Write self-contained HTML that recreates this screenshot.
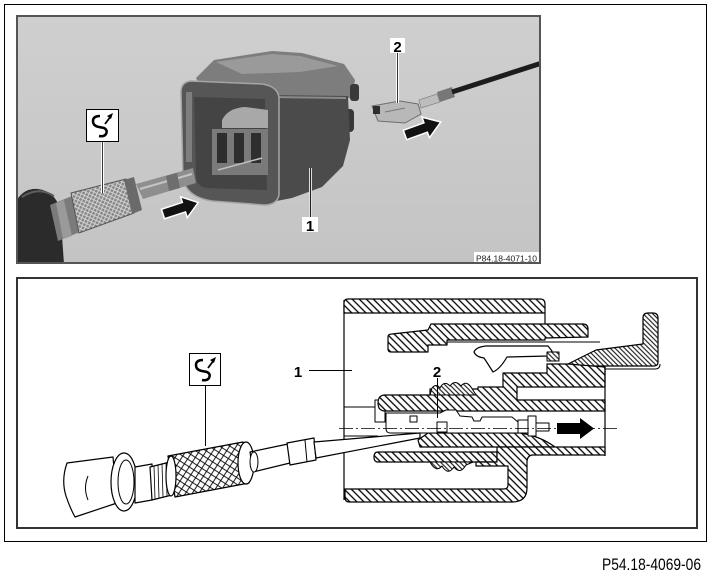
<!DOCTYPE html>
<html><head><meta charset="utf-8"><style>
html,body{margin:0;padding:0;background:#fff;}
svg{display:block;}
</style></head><body>
<svg width="710" height="579" viewBox="0 0 710 579" xmlns="http://www.w3.org/2000/svg">
<defs>
<pattern id="hatch" width="5" height="5" patternUnits="userSpaceOnUse" patternTransform="rotate(-45)">
 <rect width="5" height="5" fill="#fff"/>
 <line x1="2.5" y1="0" x2="2.5" y2="5" stroke="#000" stroke-width="1.3"/>
</pattern>
<pattern id="hatchf" width="3.4" height="3.4" patternUnits="userSpaceOnUse" patternTransform="rotate(-45)">
 <rect width="3.4" height="3.4" fill="#fff"/>
 <line x1="1.7" y1="0" x2="1.7" y2="3.4" stroke="#000" stroke-width="1"/>
</pattern>
<pattern id="knurlB" width="8" height="8" patternUnits="userSpaceOnUse" patternTransform="rotate(-12)">
 <rect width="8" height="8" fill="#fff"/>
 <path d="M0,0 L8,8 M8,0 L0,8" stroke="#000" stroke-width="0.9"/>
</pattern>
<pattern id="knurlP" width="5" height="5" patternUnits="userSpaceOnUse" patternTransform="rotate(-20)">
 <rect width="5" height="5" fill="#858585"/>
 <path d="M0,0 L5,5 M5,0 L0,5" stroke="#d2d2d2" stroke-width="1"/>
</pattern>
<linearGradient id="bg" x1="0" y1="0" x2="0" y2="1">
 <stop offset="0" stop-color="#cfcfcf"/><stop offset="1" stop-color="#c4c4c4"/>
</linearGradient>
<clipPath id="pc"><rect x="17" y="16" width="523" height="247"/></clipPath>
</defs>

<!-- outer frame -->
<rect x="4.5" y="4.5" width="702" height="537" fill="none" stroke="#000" stroke-width="1"/>

<!-- ========== PHOTO PANEL ========== -->
<rect x="17" y="16" width="523" height="247" fill="url(#bg)"/>
<g clip-path="url(#pc)">
 <!-- handle -->
 <path d="M17,200 Q24,188 38,189 Q54,191 60,208 L64,264 L17,264 Z" fill="#2b2b2b"/>
 <path d="M22,197 Q38,186 54,196" stroke="#5e5e5e" stroke-width="2" fill="none"/>
 <!-- tube -->
 <polygon points="50,205 72,196 80,232 58,241" fill="#7b7b7b"/>
 <polygon points="56,203 64,200 72,236 63,239" fill="#9a9a9a"/>
 <!-- knurled sleeve -->
 <polygon points="71,193 126,179 134,213 79,233" fill="url(#knurlP)" stroke="#555" stroke-width="1"/>
 <polygon points="124,180 134,177 142,210 132,214" fill="#6a6a6a"/>
 <!-- housing top surface -->
 <path d="M196,78 L214,60 L272,51 L302,53 L344,64 L355,80 L352,98 L276,100 L262,90 L200,86 Z" fill="#7d7d7d"/>
 <path d="M216,62 L272,54 L300,56 L338,66 L300,72 L242,74 Z" fill="#9a9a9a"/>
 <!-- knobs -->
 <rect x="344" y="109" width="10" height="23" rx="4" fill="#383838"/>
 <rect x="350" y="84" width="9" height="17" rx="3" fill="#3a3a3a"/>
 <!-- right face -->
 <path d="M266,95 L348,96 L350,140 L343,166 L322,187 L292,198 L266,203 Z" fill="#4b4b4b"/>
 <path d="M270,97 L346,98" stroke="#8a8a8a" stroke-width="2"/>
 <!-- front frame -->
 <path d="M181,92 Q181,82 191,81 L262,84 Q277,86 279,97 L279,195 Q277,205 264,205 L212,201 Q186,197 183,178 Z" fill="#565656" stroke="#a5a5a5" stroke-width="1.5"/>
 <path d="M194,97 L265,99 L267,190 L206,188 Q196,186 196,176 Z" fill="#444"/>
 <path d="M222,120 Q228,108 245,107 L268,110 L268,128 L222,128 Z" fill="#a8a8a8"/>
 <rect x="212" y="129" width="56" height="46" fill="#7a7a7a"/>
 <rect x="217" y="133" width="10" height="30" fill="#2e2e2e"/>
 <rect x="234" y="133" width="10" height="30" fill="#2e2e2e"/>
 <rect x="251" y="133" width="10" height="30" fill="#2e2e2e"/>
 <path d="M218,170 L262,158" stroke="#c0c0c0" stroke-width="1.5"/>
 <rect x="186" y="92" width="6" height="70" fill="#7e7e7e"/>
 <!-- shaft -->
 <polygon points="136,184 193,168 196,183 143,199" fill="#8e8e8e"/>
 <path d="M140,189 L192,174" stroke="#c4c4c4" stroke-width="2"/>
 <polygon points="166,176 177,173 180,188 169,191" fill="#6e6e6e"/>
 <!-- label line tool -->
 <line x1="102.5" y1="142" x2="102.5" y2="193" stroke="#fff" stroke-width="3"/>
 <line x1="102.5" y1="142" x2="102.5" y2="193" stroke="#333" stroke-width="1"/>
 <!-- arrow 1 -->
 <g transform="translate(163,214) rotate(-18)">
  <polygon points="0,-5 22,-5 22,-11 37,0 22,11 22,5 0,5" fill="#111" stroke="#fff" stroke-width="1.5"/>
 </g>
 <!-- terminal 2 photo -->
 <polygon points="372,106 400,101 418,104 421,114 405,123 378,121" fill="#b8b8b8" stroke="#6d6d6d" stroke-width="1"/>
 <rect x="373" y="106" width="7" height="8" fill="#2e2e2e"/>
 <path d="M385,112 L405,108" stroke="#777" stroke-width="1"/>
 <polygon points="419,100 437,94 440,102 421,108" fill="#bdbdbd" stroke="#888" stroke-width="0.8"/>
 <polygon points="437,92 452,87 455,97 440,102" fill="#777"/>
 <path d="M452,92 L545,62" stroke="#1d1d1d" stroke-width="5"/>
 <!-- label 2 line -->
 <line x1="397.5" y1="53" x2="397.5" y2="103" stroke="#fff" stroke-width="3"/>
 <line x1="397.5" y1="53" x2="397.5" y2="103" stroke="#333" stroke-width="1"/>
 <!-- arrow 2 -->
 <g transform="translate(405,135) rotate(-20)">
  <polygon points="0,-5 22,-5 22,-11 38,0 22,11 22,5 0,5" fill="#111" stroke="#fff" stroke-width="1.5"/>
 </g>
 <!-- label 1 line -->
 <line x1="310.5" y1="168" x2="310.5" y2="218" stroke="#ddd" stroke-width="3"/>
 <line x1="310.5" y1="168" x2="310.5" y2="218" stroke="#222" stroke-width="1"/>
 <!-- labels -->
 <rect x="390" y="38" width="15" height="15" fill="#fff"/>
 <text x="397.5" y="52" font-family="Liberation Sans, sans-serif" font-weight="bold" font-size="15" text-anchor="middle" fill="#000">2</text>
 <rect x="302" y="217" width="16" height="15" fill="#fff"/>
 <text x="310" y="231" font-family="Liberation Sans, sans-serif" font-weight="bold" font-size="15" text-anchor="middle" fill="#000">1</text>
 <!-- tool icon -->
 <rect x="86.5" y="109.5" width="32" height="32" fill="#fff" stroke="#000" stroke-width="1"/>
 <path d="M100,116 Q93,116 93,121 Q93,126 99,127 L104,128 Q108,130 106,134 Q104,137 99,136" fill="none" stroke="#000" stroke-width="2.5"/>
 <path d="M105,124 L111,116" stroke="#000" stroke-width="1.8"/>
 <polygon points="113,113 107,116 111,119" fill="#000"/>
 <!-- code label -->
 <rect x="474" y="252" width="66" height="12" fill="#fff"/>
 <text x="476" y="261.5" font-family="Liberation Sans, sans-serif" font-size="8.5" textLength="61" lengthAdjust="spacingAndGlyphs" fill="#222">P84.18-4071-10</text>
</g>
<rect x="17" y="16" width="523" height="247" fill="none" stroke="#555" stroke-width="2"/>

<!-- ========== DRAWING PANEL ========== -->
<rect x="17" y="278" width="680" height="250" fill="#fff" stroke="#333" stroke-width="2"/>

<g stroke="#000" stroke-width="1.2" stroke-linejoin="round">
 <!-- housing left edge -->
 <line x1="344" y1="300" x2="344" y2="500"/>
 <line x1="344" y1="407" x2="378" y2="407" stroke-width="1"/>
 <line x1="344" y1="436" x2="378" y2="436" stroke-width="1"/>
 <rect x="375" y="400" width="10" height="22" fill="#fff" stroke-width="1"/>
 <!-- top bar -->
 <path d="M344,313 L344,303 Q344,299 348,299 L540,299 Q545,299 545,304 L545,313 Z" fill="url(#hatch)"/>
 <line x1="545" y1="313" x2="545" y2="324"/>
 <!-- latch arm -->
 <path d="M388,337 Q388,334 392,334 L428,330 L431,324 L583,324 Q588,324 588,329 L588,337 L545,338 L545,340 L447,340 L447,345 L428,345 L428,352 L391,352 Q388,352 388,349 Z" fill="url(#hatch)"/>
 <line x1="447" y1="342" x2="600" y2="342" stroke-width="1"/>
 <!-- latch hook -->
 <path d="M568,364 L596,350 L643,344 L643,318 Q643,313 648,313 L653,313 Q658,313 658,318 L658,362 Q658,366 654,366 L570,366 Z" fill="url(#hatchf)"/>
 <path d="M575,369 L655,369 Q660,369 660,364" fill="none" stroke-width="1"/>
 <!-- tongue -->
 <path d="M474,352 Q476,347 486,346 L548,346 L552,351 L548,356 L507,357 Q500,369 493,372 Q488,364 484,358 Q476,357 474,352 Z" fill="#fff"/>
 <rect x="547" y="352" width="12" height="9" fill="url(#hatchf)" stroke-width="1"/>
 <!-- upper body -->
 <path d="M503,373 L547,373 L547,364 L568,364 L605,367 L605,387 L517,387 L517,400 L605,400 L605,411 L385,411 Q378,411 378,403 Q378,395 385,395 L430,395 L430,389 L478,389 L478,387 L503,387 Z" fill="url(#hatch)"/>
 <path d="M430,395 L432,388 Q436,383 440,388 Q444,380 450,386 Q455,379 461,386 Q466,380 471,387 L476,395 Z" fill="url(#hatchf)" stroke-width="1"/>
 <line x1="605" y1="366" x2="605" y2="456"/>
 <!-- lower middle block -->
 <path d="M418,440 L428,433 L520,433 Q540,436 555,447 L420,447 Z" fill="url(#hatch)"/>
 <!-- lower channel wall -->
 <path d="M378,452 L497,452 L497,462 L378,462 Q374,462 374,457 Q374,452 378,452 Z" fill="url(#hatch)"/>
 <path d="M430,462 Q436,473 442,466 Q448,476 454,467 Q460,475 466,465 L473,462 Z" fill="url(#hatchf)" stroke-width="1"/>
 <!-- bottom / right wall -->
 <path d="M345,489 L504,489 Q508,489 508,485 L508,466 L476,466 L476,462 L497,462 L497,447 L605,447 L605,455 L532,455 Q527,456 527,462 L527,488 Q527,502 512,502 L349,502 Q345,502 345,497 Z" fill="url(#hatch)"/>
 <!-- terminal -->
 <path d="M386,413 L440,413 L446,410 L456,410 L460,416 L472,417 L474,421 L480,421 L482,417 L512,417 L518,422 L518,433 L390,433 Q386,433 386,428 Z" fill="#fff" stroke-width="1"/>
 <rect x="410" y="416" width="7" height="6" fill="#fff" stroke-width="1"/>
 <rect x="437" y="422" width="10" height="10" fill="#fff" stroke-width="1"/>
 <rect x="518" y="420" width="10" height="13" fill="#fff" stroke-width="1"/>
 <rect x="528" y="416" width="8" height="20" fill="#fff" stroke-width="1"/>
 <rect x="536" y="423" width="13" height="8" fill="#fff" stroke-width="1"/>
</g>
<!-- center line -->
<line x1="339" y1="428.5" x2="617" y2="428.5" stroke="#000" stroke-width="0.8" stroke-dasharray="14 3 2 3"/>
<!-- arrow -->
<polygon points="557,423 580,423 580,418 594,428.5 580,439 580,434 557,434" fill="#000"/>
<!-- label 2 pointer -->
<line x1="437.5" y1="378" x2="437.5" y2="418" stroke="#000" stroke-width="1"/>
<!-- label 1 pointer -->
<line x1="309" y1="370.5" x2="352" y2="370.5" stroke="#000" stroke-width="1"/>

<!-- tool drawing -->
<g stroke="#000" stroke-width="1.2" fill="#fff" stroke-linejoin="round">
 <path d="M67,463 Q61,480 66,496 Q70,508 75,517 L117,503 L113,457 Z"/>
 <path d="M88,476 Q83,488 88,500" fill="none" stroke-width="1"/>
 <ellipse cx="124" cy="482" rx="13" ry="29"/>
 <ellipse cx="126" cy="482" rx="8" ry="22" stroke-width="1"/>
 <polygon points="135,467 152,464 152,500 135,503"/>
 <polygon points="150,467 170,462 172,495 152,500"/>
 <path d="M154,466 L155,499 M158,465 L159,498 M162,464 L163,497 M166,463 L167,496" stroke-width="0.8"/>
 <polygon points="168,456 243,442 249,483 175,497" fill="url(#knurlB)" stroke-width="1.3"/>
 <ellipse cx="171" cy="476" rx="5" ry="20"/>
 <ellipse cx="246" cy="463" rx="8" ry="21"/>
 <polygon points="250,452 288,444 290,463 253,472"/>
 <ellipse cx="254" cy="462" rx="4" ry="10" stroke-width="1"/>
 <polygon points="287,443 314,438 316,460 290,465"/>
 <line x1="305" y1="440" x2="307" y2="462" stroke-width="1"/>
 <polygon points="314,442 420,433 420,438 316,458"/>
</g>
<line x1="205.5" y1="386" x2="205.5" y2="446" stroke="#000" stroke-width="1"/>
<!-- tool icon bottom -->
<rect x="189.5" y="353.5" width="31" height="32" fill="#fff" stroke="#000" stroke-width="1"/>
<path d="M203,360 Q196,360 196,365 Q196,370 202,371 L207,372 Q211,374 209,378 Q207,381 202,380" fill="none" stroke="#000" stroke-width="2.5"/>
<path d="M208,368 L214,360" stroke="#000" stroke-width="1.8"/>
<polygon points="216,357 210,360 214,363" fill="#000"/>

<!-- labels bottom -->
<text x="298" y="377" font-family="Liberation Sans, sans-serif" font-weight="bold" font-size="15" text-anchor="middle" fill="#000">1</text>
<text x="437" y="377" font-family="Liberation Sans, sans-serif" font-weight="bold" font-size="15" text-anchor="middle" fill="#000">2</text>

<!-- footer code -->
<text x="602" y="570" font-family="Liberation Sans, sans-serif" font-size="17" textLength="99" lengthAdjust="spacingAndGlyphs" fill="#000">P54.18-4069-06</text>
</svg>
</body></html>
